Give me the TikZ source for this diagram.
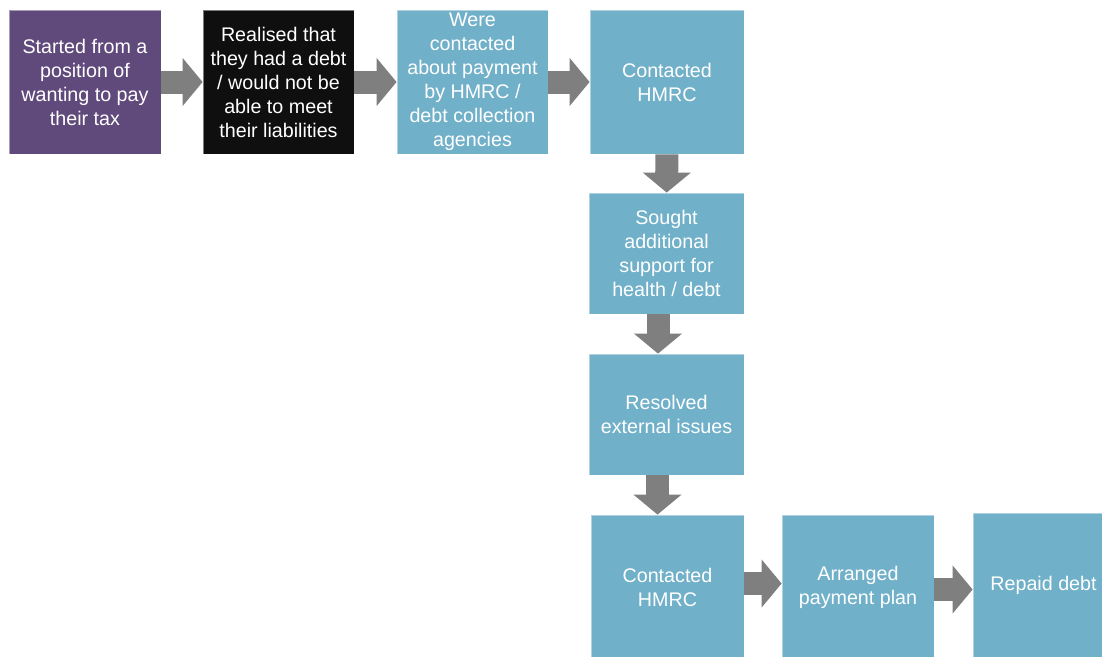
\documentclass[tikz,border=0pt]{standalone}
\usepackage{fontspec}
\setmainfont{Liberation Sans}
\usetikzlibrary{arrows.meta}
\definecolor{purp}{HTML}{604A7B}
\definecolor{blk}{HTML}{0F0F0F}
\definecolor{tealbox}{HTML}{71B0C9}
\definecolor{arrgray}{HTML}{7F7F7F}
\tikzset{
  stepbox/.style={rectangle, draw=white, draw opacity=0.45, line width=0.8pt, text=white,
    align=center, inner sep=0pt, font=\fontsize{19.7}{24}\selectfont},
  purplebox/.style={stepbox, fill=purp},
  blackbox/.style={stepbox, fill=blk},
  tealstep/.style={stepbox, fill=tealbox},
  tallbox/.style={minimum height=144pt},
  shortbox/.style={minimum height=121pt},
  barrow/.style={draw=arrgray, line width=23pt, -{Triangle[width=47pt,length=20pt]}},
}
\begin{document}
\begin{tikzpicture}[x=1pt,y=-1pt]
\clip (0,0) rectangle (1102,656);
\fill[white] (0,0) rectangle (1102,656);

\node[purplebox, tallbox, minimum width=152pt] (b1) at (85,82)
  {Started from a\\position of\\wanting to pay\\their tax};
\node[blackbox, tallbox, minimum width=151pt] (b2) at (278.5,82)
  {Realised that\\they had a debt\\/ would not be\\able to meet\\their liabilities};
\node[tealstep, tallbox, minimum width=151pt] (b3) at (472.5,82)
  {Were\\contacted\\about payment\\by HMRC /\\debt collection\\agencies};
\node[tealstep, tallbox, minimum width=154pt] (b4) at (667,82)
  {Contacted\\HMRC};
\node[tealstep, shortbox, minimum width=155pt] (b5) at (666.5,253.5)
  {Sought\\additional\\support for\\health / debt};
\node[tealstep, shortbox, minimum width=155pt] (b6) at (666.5,414.5)
  {Resolved\\external issues};
\node[tealstep, tallbox, minimum width=153pt] (b7) at (667.5,587)
  {Contacted\\HMRC};
\node[tealstep, tallbox, minimum width=152pt] (b8) at (858,587)
  {Arranged\\payment plan};
\node[tealstep, tallbox, minimum width=141pt] (b9) at (1043.5,585)
  {Repaid debt};

\draw[barrow] (b1) -- (b2);
\draw[barrow] (b2) -- (b3);
\draw[barrow] (b3) -- (b4);
\draw[barrow] (b4) -- (b5);
\draw[barrow] ([xshift=-8.5pt]b5.south) -- ([xshift=-8.5pt]b6.north);
\draw[barrow] ([xshift=-9pt]b6.south) -- ([xshift=-9pt]b6.south |- b7.north);
\draw[barrow] ([yshift=3.5pt]b7.east) -- ([yshift=3.5pt]b8.west);
\draw[barrow] ([yshift=-2.5pt]b8.east) -- ([yshift=-2.5pt]b8.east -| b9.west);
\end{tikzpicture}
\end{document}
